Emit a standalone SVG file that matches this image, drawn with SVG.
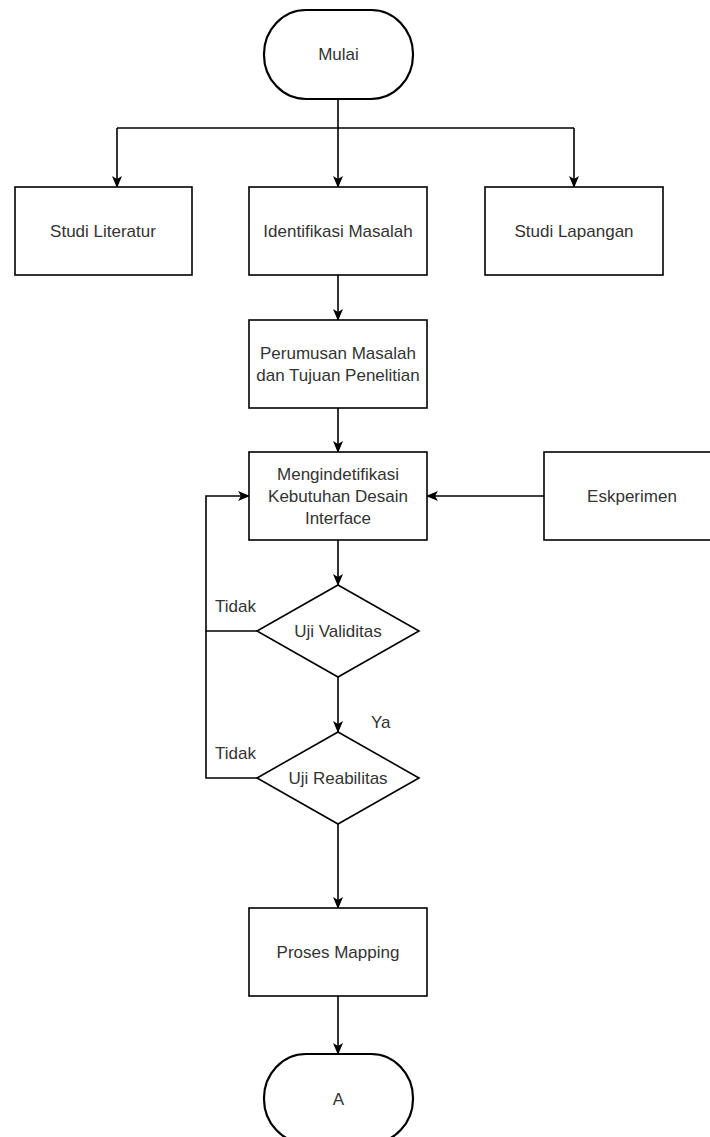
<svg xmlns="http://www.w3.org/2000/svg" width="710" height="1137" viewBox="0 0 710 1137">
<style>
.box{fill:#fff;stroke:#000;stroke-width:1.6}
.term{fill:#fff;stroke:#000;stroke-width:2.2}
.t{font-family:"Liberation Sans",Arial,sans-serif;font-size:17px;fill:#333;text-anchor:middle;dominant-baseline:central}
.lbl{font-family:"Liberation Sans",Arial,sans-serif;font-size:17px;fill:#333;dominant-baseline:central}
.c{fill:none;stroke:#000;stroke-width:1.6}
</style>
<defs>
<marker id="arr" viewBox="0 0 12 10" markerWidth="12" markerHeight="10" refX="11" refY="5" orient="auto" markerUnits="userSpaceOnUse">
<path d="M0,0 L12,5 L0,10 L3,5 Z" fill="#000"/>
</marker>
</defs>
<rect width="710" height="1137" fill="#fff"/>
<g id="connectors">
<path class="c" d="M338,99 V187" marker-end="url(#arr)"/>
<path class="c" d="M117,128 H574"/>
<path class="c" d="M117,128 V187" marker-end="url(#arr)"/>
<path class="c" d="M574,128 V187" marker-end="url(#arr)"/>
<path class="c" d="M338,275 V320" marker-end="url(#arr)"/>
<path class="c" d="M338,408 V452" marker-end="url(#arr)"/>
<path class="c" d="M544,496 H427" marker-end="url(#arr)"/>
<path class="c" d="M338,540 V585" marker-end="url(#arr)"/>
<path class="c" d="M257,631 H206 V496 H249" marker-end="url(#arr)"/>
<path class="c" d="M257,778 H206 V631"/>
<path class="c" d="M338,677 V732" marker-end="url(#arr)"/>
<path class="c" d="M338,824 V908" marker-end="url(#arr)"/>
<path class="c" d="M338,996 V1054" marker-end="url(#arr)"/>
<text class="lbl" x="215" y="606">Tidak</text>
<text class="lbl" x="215" y="753">Tidak</text>
<text class="lbl" x="371" y="722">Ya</text>
</g>
<g id="mulai">
<rect class="term" x="264" y="10" width="149" height="89" rx="42" ry="44"/>
<text class="t" x="338.5" y="54">Mulai</text>
</g>
<g id="studi-literatur">
<rect class="box" x="15" y="187" width="177" height="88"/>
<text class="t" x="103" y="231">Studi Literatur</text>
</g>
<g id="identifikasi-masalah">
<rect class="box" x="249" y="187" width="178" height="88"/>
<text class="t" x="338" y="231">Identifikasi Masalah</text>
</g>
<g id="studi-lapangan">
<rect class="box" x="485" y="187" width="178" height="88"/>
<text class="t" x="574" y="231">Studi Lapangan</text>
</g>
<g id="perumusan">
<rect class="box" x="249" y="320" width="178" height="88"/>
<text class="t" x="338" y="353">Perumusan Masalah</text>
<text class="t" x="338" y="375">dan Tujuan Penelitian</text>
</g>
<g id="mengindetifikasi">
<rect class="box" x="249" y="452" width="178" height="88"/>
<text class="t" x="338" y="474">Mengindetifikasi</text>
<text class="t" x="338" y="496">Kebutuhan Desain</text>
<text class="t" x="338" y="518">Interface</text>
</g>
<g id="eskperimen">
<rect class="box" x="544" y="452" width="178" height="88"/>
<text class="t" x="632" y="496">Eskperimen</text>
</g>
<g id="uji-validitas">
<polygon class="box" points="338,585 419,631 338,677 257,631"/>
<text class="t" x="338" y="631">Uji Validitas</text>
</g>
<g id="uji-reabilitas">
<polygon class="box" points="338,732 419,778 338,824 257,778"/>
<text class="t" x="338" y="778">Uji Reabilitas</text>
</g>
<g id="proses-mapping">
<rect class="box" x="249" y="908" width="178" height="88"/>
<text class="t" x="338" y="952">Proses Mapping</text>
</g>
<g id="a">
<rect class="term" x="264" y="1054" width="149" height="89" rx="42" ry="44"/>
<text class="t" x="338.5" y="1099">A</text>
</g>
</svg>
